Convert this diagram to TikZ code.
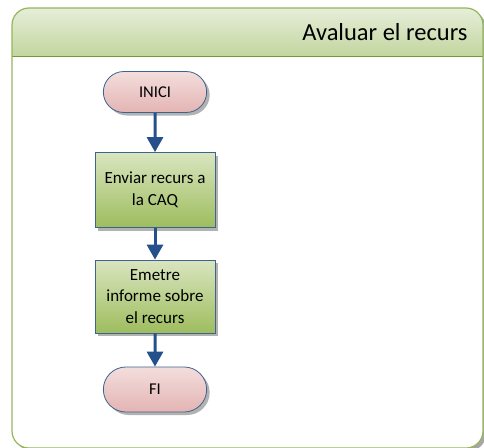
\documentclass[tikz,border=0pt]{standalone}
\usepackage{fontspec}
\setmainfont{Carlito}
\usetikzlibrary{arrows.meta,shapes.misc,shadows}
\definecolor{framegreen}{HTML}{93B75A}
\definecolor{framedark}{HTML}{77963F}
\definecolor{headtop}{HTML}{E6EEDA}
\definecolor{headbot}{HTML}{C3D69E}
\definecolor{boxtop}{HTML}{D9E5BF}
\definecolor{boxbot}{HTML}{9EBD5E}
\definecolor{termtop}{HTML}{F3DEDD}
\definecolor{termbot}{HTML}{E3B4B3}
\definecolor{nodeborder}{HTML}{3D6390}
\definecolor{arrowblue}{HTML}{24508C}
\tikzset{
  shadowed/.style={drop shadow={shadow xshift=3pt,shadow yshift=-3pt,fill=black!55,opacity=0.55}},
  terminal/.style={rounded rectangle, draw=nodeborder, line width=0.8pt,
    top color=termtop, bottom color=termbot, minimum width=110pt, minimum height=41pt,
    font=\fontsize{16.5}{20}\selectfont, shadowed},
  process/.style={rectangle, draw=nodeborder, line width=0.8pt,
    top color=boxtop, bottom color=boxbot, minimum width=120pt, align=center,
    font=\fontsize{17}{21.5}\selectfont, shadowed},
  flow/.style={draw=arrowblue, line width=3pt, -{Triangle[width=16pt,length=15pt]}}
}
\begin{document}
\begin{tikzpicture}[x=1pt,y=-1pt]
\useasboundingbox (0,0) rectangle (484,447);
\begin{scope}
  \clip (0,0) rectangle (484,447);
  \fill[black!35, rounded corners=17pt] (15,11) rectangle (486,451);
  \fill[white, rounded corners=17pt] (12,8) rectangle (483,448);
  \begin{scope}
    \clip[rounded corners=17pt] (12,8) rectangle (483,448);
    \shade[top color=headtop, bottom color=headbot] (12,8) rectangle (483,56);
    \draw[framedark, line width=1pt] (12,56) -- (483,56);
  \end{scope}
  \draw[framegreen, line width=1.2pt, rounded corners=17pt] (12,8) rectangle (483,448);
\end{scope}
\node[anchor=base east, font=\fontsize{24.5}{29}\selectfont] (title) at (471,40) {Avaluar el recurs};

\node[terminal] (inici) at (155,92) {INICI};
\node[process, minimum height=75pt] (enviar) at (155,190) {Enviar recurs a\\la CAQ};
\node[process, minimum height=73pt] (emetre) at (155,296.5) {Emetre\\informe sobre\\el recurs};
\node[terminal, minimum height=45pt] (fi) at (155,389.5) {FI};

\draw[flow] (inici) -- (enviar);
\draw[flow] (enviar) -- (emetre);
\draw[flow] (emetre) -- (fi);
\end{tikzpicture}
\end{document}
